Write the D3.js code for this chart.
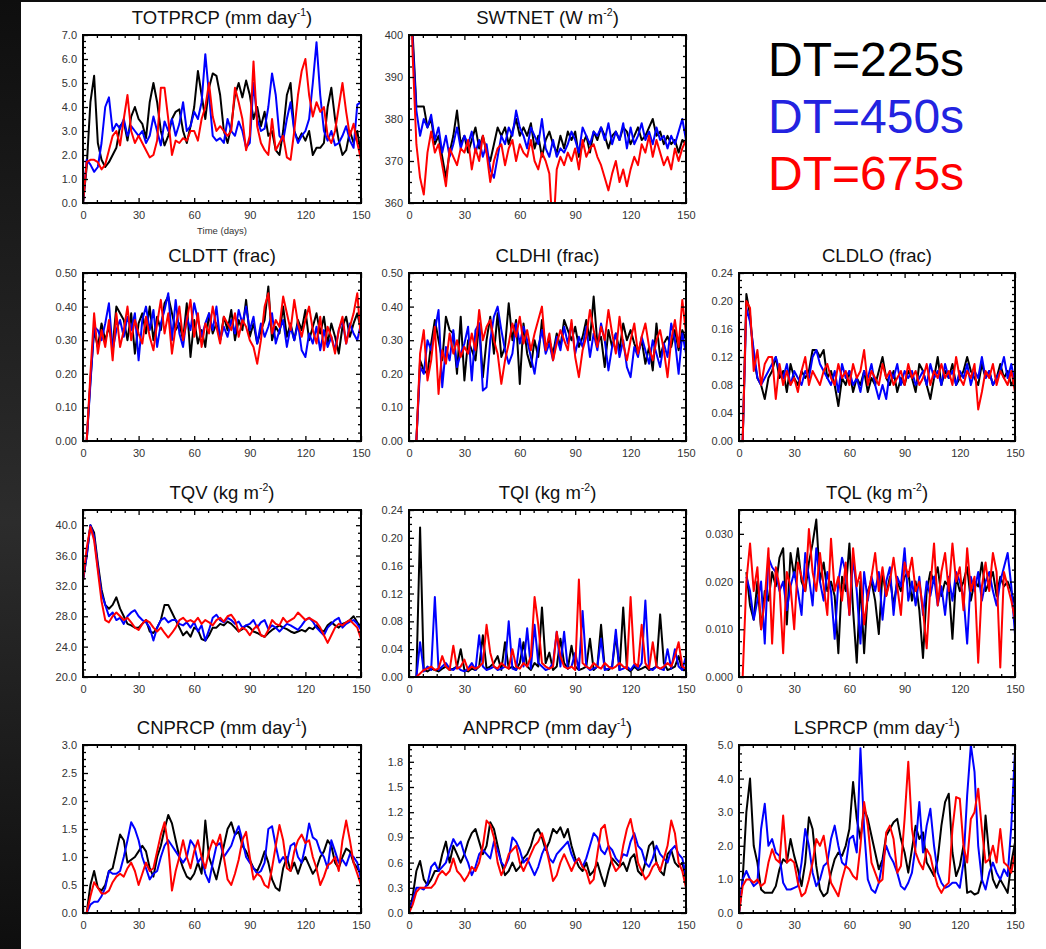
<!DOCTYPE html>
<html>
<head>
<meta charset="utf-8">
<script src="https://cdnjs.cloudflare.com/ajax/libs/d3/7.8.5/d3.min.js"></script>
<style>
  body { margin: 0; background: #fff; }
  svg { display: block; font-family: "Liberation Sans", Arial, Helvetica, sans-serif; }
</style>
</head>
<body>
<div id="chart"></div>
<script>
// Model time step sensitivity: 150-day runs at three time steps
// one value every 2 days, days 0..150
var days = d3.range(0, 151, 2);

// TOTPRCP (mm/day)
var tot225 = [0.0,1.5,4.2,5.3,2.5,1.8,1.5,1.7,2.0,2.3, 3.2,3.4,2.6,3.6,4.0,3.5,3.3,2.7,4.2,5.0,
  4.2,3.0,2.4,2.8,3.5,3.8,3.9,3.0,2.5,3.2, 4.0,5.5,4.5,3.5,4.8,5.4,5.3,4.5,3.0,2.5,
  3.2,4.5,5.0,4.4,5.1,4.5,3.5,4.0,3.2,3.8, 2.8,3.0,2.2,2.0,3.0,4.5,5.0,3.0,2.6,2.9,
  2.6,3.0,2.0,2.3,2.3,2.5,4.0,4.8,3.5,2.6, 2.0,2.2,3.0,2.5,3.0,2.0];
var tot450 = [0.0,1.8,1.6,1.3,1.5,2.5,4.0,4.4,3.0,3.3, 3.1,3.5,2.8,3.2,3.0,2.8,3.0,2.5,2.8,3.6,
  3.0,2.4,3.4,3.0,3.5,2.8,3.3,4.2,3.0,3.2, 3.8,3.5,4.2,6.2,4.5,2.8,2.6,2.7,2.5,3.5,
  3.0,2.8,3.4,3.0,2.3,2.5,5.0,3.5,3.0,3.1, 4.0,5.4,4.5,2.8,2.6,3.5,4.2,3.0,2.5,2.8,
  3.0,3.5,5.0,6.7,4.5,3.0,2.6,3.0,2.4,2.5, 2.8,3.2,2.6,2.3,4.1,4.2];
var tot675 = [0.0,1.7,1.8,1.8,1.7,1.4,1.6,2.2,2.8,3.0, 2.4,3.5,4.5,3.0,2.5,2.8,2.5,2.2,1.9,2.0,
  2.6,4.8,4.8,3.5,2.0,2.6,2.5,2.7,2.6,3.0, 3.0,2.6,3.5,4.0,5.0,3.6,3.0,3.2,3.0,2.8,
  3.0,4.8,4.2,3.5,2.2,2.8,5.9,3.2,2.5,2.2, 2.0,3.5,2.2,2.5,2.8,1.9,1.8,3.0,4.5,5.5,
  6.0,4.5,3.6,4.2,3.8,4.0,2.8,2.5,3.0,4.0, 5.0,3.8,2.8,3.3,2.5,1.8];

// SWTNET (W m-2)
var sw225 = [430,400,383,383,383,378,380,374,376,371, 366,372,376,382,374,376,372,375,378,373,
  376,372,370,374,378,376,378,374,377,380, 376,378,376,379,373,376,371,375,377,374,
  372,376,373,377,375,377,371,374,376,372, 377,375,378,376,373,376,377,375,378,377,
  374,376,378,375,376,378,380,376,377,374, 376,374,375,372,375,374];
var sw450 = [430,398,382,376,380,378,381,375,378,372, 376,371,374,378,373,376,374,377,372,375,
  371,374,368,366,371,376,374,378,376,382, 378,376,373,378,376,374,380,373,371,375,
  371,373,372,374,377,375,372,378,376,374, 377,376,378,375,379,374,377,375,379,373,
  378,374,376,379,375,377,374,378,375,376, 373,376,374,377,380,375];
var sw675 = [430,395,374,366,362,372,377,372,374,369, 364,373,371,369,373,372,375,368,373,370,
  376,372,365,370,373,374,369,373,375,370, 374,372,371,375,370,368,372,370,367,352,
  368,371,369,372,370,373,368,375,371,373, 374,371,369,366,363,367,370,365,368,364,
  368,371,369,374,372,376,371,375,372,369, 371,368,373,370,373,375];

// CLDTT (frac)
var cldtt225 = [null,0.0,0.18,0.33,0.28,0.35,0.30,0.34,0.28,0.40, 0.38,0.36,0.30,0.38,0.26,0.35,0.38,0.32,0.40,0.30,
  0.37,0.33,0.41,0.43,0.38,0.33,0.35,0.30,0.41,0.25, 0.36,0.29,0.33,0.28,0.38,0.32,0.35,0.30,0.37,0.33,
  0.39,0.30,0.36,0.33,0.42,0.31,0.35,0.29,0.33,0.36, 0.46,0.30,0.34,0.32,0.40,0.31,0.35,0.30,0.36,0.33,
  0.39,0.30,0.34,0.38,0.32,0.37,0.29,0.35,0.31,0.26, 0.34,0.37,0.31,0.35,0.38,0.33];
var cldtt450 = [null,0.0,0.17,0.34,0.33,0.30,0.35,0.41,0.27,0.33, 0.36,0.31,0.37,0.33,0.38,0.24,0.36,0.40,0.33,0.39,
  0.28,0.35,0.39,0.44,0.30,0.42,0.32,0.28,0.37,0.33, 0.41,0.36,0.31,0.35,0.38,0.33,0.40,0.30,0.34,0.31,
  0.36,0.32,0.39,0.35,0.40,0.33,0.37,0.29,0.35,0.31, 0.34,0.38,0.29,0.33,0.36,0.28,0.34,0.30,0.35,0.27,
  0.25,0.32,0.29,0.34,0.27,0.33,0.28,0.31,0.27,0.33, 0.36,0.29,0.35,0.32,0.30,0.35];
var cldtt675 = [null,0.0,0.20,0.38,0.26,0.33,0.28,0.36,0.24,0.38, 0.28,0.33,0.40,0.30,0.36,0.32,0.29,0.37,0.31,0.27,
  0.35,0.42,0.32,0.38,0.26,0.34,0.40,0.30,0.36,0.42, 0.31,0.38,0.28,0.35,0.32,0.40,0.34,0.29,0.37,0.35,
  0.33,0.38,0.31,0.36,0.34,0.30,0.28,0.23,0.30,0.40, 0.44,0.32,0.36,0.34,0.43,0.38,0.33,0.42,0.35,0.31,
  0.36,0.40,0.33,0.29,0.37,0.27,0.34,0.31,0.26,0.33, 0.37,0.29,0.34,0.38,0.44,0.30];

// CLDHI (frac)
var cldhi225 = [null,null,0.0,0.24,0.21,0.20,0.29,0.36,0.30,0.24, 0.37,0.33,0.32,0.20,0.37,0.18,0.30,0.27,0.24,0.35,
  0.19,0.30,0.37,0.26,0.38,0.25,0.28,0.41,0.30,0.36, 0.17,0.35,0.26,0.22,0.30,0.25,0.36,0.28,0.30,0.26,
  0.32,0.28,0.36,0.33,0.30,0.34,0.28,0.31,0.36,0.30, 0.43,0.29,0.31,0.22,0.33,0.28,0.32,0.27,0.35,0.30,
  0.33,0.29,0.26,0.30,0.23,0.28,0.21,0.35,0.25,0.29, 0.31,0.28,0.33,0.27,0.33,0.30];
var cldhi450 = [null,null,0.0,0.22,0.20,0.30,0.27,0.33,0.39,0.16, 0.28,0.24,0.33,0.22,0.26,0.29,0.34,0.18,0.33,0.35,
  0.15,0.16,0.30,0.37,0.40,0.33,0.27,0.23,0.26,0.35, 0.29,0.34,0.30,0.25,0.20,0.28,0.33,0.26,0.29,0.24,
  0.31,0.27,0.34,0.29,0.35,0.26,0.31,0.28,0.34,0.25, 0.32,0.27,0.35,0.30,0.21,0.28,0.32,0.25,0.30,0.22,
  0.19,0.28,0.25,0.31,0.27,0.23,0.30,0.26,0.22,0.29, 0.25,0.35,0.30,0.20,0.32,0.26];
var cldhi675 = [null,null,0.0,0.26,0.33,0.18,0.24,0.34,0.14,0.27, 0.23,0.32,0.26,0.30,0.25,0.28,0.26,0.32,0.27,0.39,
  0.30,0.34,0.36,0.30,0.26,0.17,0.24,0.29,0.35,0.31, 0.37,0.29,0.33,0.27,0.32,0.36,0.40,0.27,0.32,0.24,
  0.29,0.33,0.30,0.27,0.36,0.25,0.19,0.27,0.31,0.39, 0.33,0.28,0.34,0.30,0.39,0.32,0.26,0.37,0.29,0.24,
  0.30,0.35,0.26,0.31,0.35,0.28,0.24,0.30,0.33,0.27, 0.19,0.30,0.36,0.28,0.42,0.32];

// CLDLO (frac)
var cldlo225 = [null,0.0,0.21,0.18,0.12,0.09,0.08,0.06,0.09,0.10, 0.12,0.09,0.10,0.07,0.11,0.09,0.08,0.10,0.09,0.10,
  0.13,0.13,0.12,0.13,0.09,0.10,0.08,0.05,0.09,0.08, 0.10,0.07,0.09,0.08,0.10,0.07,0.09,0.08,0.10,0.12,
  0.09,0.08,0.10,0.07,0.09,0.08,0.10,0.09,0.07,0.11, 0.10,0.08,0.06,0.09,0.12,0.08,0.10,0.09,0.11,0.08,
  0.09,0.10,0.12,0.10,0.09,0.08,0.11,0.09,0.10,0.08, 0.09,0.11,0.09,0.10,0.08,0.09];
var cldlo450 = [null,0.0,0.19,0.17,0.13,0.09,0.08,0.09,0.10,0.11, 0.12,0.10,0.09,0.11,0.08,0.10,0.09,0.08,0.10,0.09,
  0.12,0.13,0.11,0.10,0.09,0.08,0.10,0.07,0.11,0.09, 0.10,0.08,0.09,0.07,0.10,0.09,0.11,0.08,0.06,0.08,
  0.06,0.10,0.09,0.11,0.08,0.10,0.09,0.10,0.08,0.09, 0.10,0.08,0.11,0.09,0.10,0.08,0.11,0.09,0.10,0.08,
  0.10,0.09,0.11,0.08,0.10,0.09,0.12,0.09,0.10,0.08, 0.09,0.10,0.12,0.09,0.11,0.08];
var cldlo675 = [null,0.0,0.20,0.19,0.10,0.13,0.08,0.11,0.12,0.12, 0.06,0.11,0.08,0.10,0.08,0.09,0.07,0.10,0.12,0.08,
  0.10,0.09,0.08,0.10,0.11,0.09,0.08,0.11,0.09,0.10, 0.08,0.11,0.09,0.10,0.13,0.08,0.10,0.09,0.08,0.11,
  0.09,0.10,0.08,0.09,0.10,0.08,0.11,0.09,0.10,0.08, 0.09,0.11,0.08,0.10,0.09,0.11,0.09,0.10,0.08,0.12,
  0.09,0.08,0.10,0.09,0.11,0.045,0.07,0.10,0.09,0.11, 0.08,0.10,0.09,0.08,0.10,0.07];

// TQV (kg m-2)
var tqv225 = [32.7,36,40,39,35,31.5,29.5,29,29.5,30.5, 29,28,27,26.8,26.5,26.5,27,27.5,26,25.8,
  26.5,27.5,29.5,29.5,28.5,27.5,26.5,25.5,26,25.3, 26.5,26.2,25,24.8,25.5,26.5,26.5,27,26.8,27.3,
  27,26.5,26,26.3,26.8,26.5,26,25.8,25.5,25.3, 25.8,26.2,26.5,26.8,26.5,26.3,26,25.8,26,26.2,
  26,26.5,26.3,26.8,26.2,26,26.8,27.2,26.8,26.5, 27,27.2,27.5,28,27.2,26.5];
var tqv450 = [32.7,36,40,38.5,34.5,31,29.5,28,28.5,27.5, 27.8,27,28,28.5,28.8,28,27.5,27.2,26.5,24.8,
  26.5,27.5,27.8,27.2,27.5,27.5,27,26.8,27.2,26.5, 27.2,26,26.8,24.8,26.2,27.8,28.2,27.5,27.2,27.8,
  27.5,27,27.3,26.5,26.8,27,27.5,26.5,27.2,27.5, 26.3,26.8,26.5,26,26.5,27,26.8,26.5,26.2,26.8,
  27.5,27.8,27.3,26.5,26,25.5,26.5,27,27.5,27.8, 26.5,27,27.3,27.5,27,26.2];
var tqv675 = [32.7,37,39.8,38,34,30,27.5,27.2,28,28.5, 28,27.5,27.8,27.2,26.5,26.2,27,27.5,27.2,26.5,
  26,26.5,25.8,25.2,25.8,26.5,27.5,27.8,27.3,27.5, 27.2,27.8,27,27.5,27.2,26.8,27.5,27.8,27.3,28,
  28.2,27.5,26,26.5,26.2,25.5,26.3,26.8,25.5,25.3, 26.2,27.5,27,26.8,27.8,27.2,27.5,27.8,28.5,28,
  27.5,27.8,27.5,27.2,26.5,25.5,24.5,25.5,26.5,27, 26.8,27.2,27.5,27,26.5,25];

// TQI (kg m-2)
var tqi225 = [null,null,0.0,0.215,0.01,0.008,0.012,0.01,0.008,0.012, 0.015,0.01,0.012,0.015,0.04,0.01,0.008,0.012,0.01,0.015,
  0.06,0.012,0.015,0.02,0.03,0.01,0.05,0.012,0.015,0.01, 0.02,0.05,0.015,0.01,0.02,0.015,0.10,0.02,0.035,0.01,
  0.015,0.055,0.02,0.012,0.045,0.015,0.01,0.012,0.015,0.055, 0.01,0.015,0.075,0.012,0.01,0.015,0.06,0.01,0.10,0.012,
  0.008,0.015,0.01,0.012,0.015,0.01,0.012,0.015,0.09,0.02, 0.01,0.012,0.015,0.03,0.01,0.012];
var tqi450 = [null,null,0.0,0.05,0.008,0.015,0.01,0.115,0.01,0.015, 0.02,0.012,0.01,0.015,0.01,0.008,0.012,0.02,0.01,0.06,
  0.015,0.01,0.012,0.015,0.01,0.012,0.015,0.08,0.012,0.01, 0.055,0.015,0.07,0.012,0.075,0.02,0.015,0.01,0.012,0.02,
  0.065,0.015,0.065,0.012,0.015,0.035,0.01,0.095,0.015,0.01, 0.012,0.015,0.055,0.01,0.012,0.015,0.068,0.01,0.012,0.015,
  0.01,0.018,0.012,0.02,0.11,0.012,0.01,0.015,0.012,0.01, 0.04,0.012,0.04,0.015,0.01,0.03];
var tqi675 = [null,null,0.0,0.005,0.01,0.012,0.015,0.01,0.012,0.03, 0.015,0.01,0.045,0.012,0.015,0.025,0.01,0.015,0.012,0.015,
  0.02,0.075,0.035,0.015,0.012,0.02,0.015,0.012,0.04,0.015, 0.012,0.02,0.015,0.03,0.115,0.075,0.02,0.015,0.012,0.015,
  0.065,0.03,0.015,0.012,0.015,0.01,0.14,0.02,0.015,0.012, 0.02,0.015,0.012,0.02,0.015,0.012,0.015,0.02,0.015,0.012,
  0.115,0.02,0.015,0.075,0.02,0.012,0.05,0.015,0.012,0.015, 0.02,0.015,0.03,0.05,0.015,0.012];

// TQL (kg m-2)
var tql225 = [null,null,0.022,0.015,0.012,0.02,0.01,0.018,0.016,0.022, 0.019,0.025,0.027,0.011,0.026,0.021,0.027,0.02,0.018,0.024,
  0.028,0.033,0.02,0.024,0.018,0.02,0.017,0.005,0.021,0.018, 0.028,0.014,0.003,0.02,0.005,0.018,0.02,0.016,0.009,0.022,
  0.017,0.021,0.015,0.02,0.018,0.021,0.022,0.016,0.02,0.014, 0.004,0.018,0.022,0.02,0.023,0.017,0.02,0.019,0.008,0.021,
  0.018,0.02,0.023,0.016,0.02,0.019,0.024,0.018,0.02,0.022, 0.017,0.021,0.019,0.02,0.018,0.015];
var tql450 = [null,null,0.021,0.018,0.012,0.016,0.02,0.007,0.025,0.023, 0.022,0.018,0.02,0.014,0.019,0.022,0.018,0.013,0.026,0.021,
  0.015,0.027,0.02,0.016,0.022,0.018,0.008,0.02,0.025,0.022, 0.013,0.025,0.018,0.007,0.022,0.016,0.021,0.018,0.022,0.012,
  0.02,0.023,0.013,0.021,0.019,0.027,0.016,0.02,0.015,0.021, 0.013,0.02,0.017,0.021,0.015,0.019,0.013,0.021,0.016,0.022,
  0.02,0.017,0.007,0.021,0.018,0.022,0.016,0.02,0.022,0.018, 0.015,0.02,0.023,0.026,0.019,0.009];
var tql675 = [null,0.0,0.02,0.028,0.018,0.023,0.01,0.016,0.027,0.007, 0.023,0.019,0.005,0.022,0.019,0.01,0.024,0.021,0.018,0.031,
  0.022,0.018,0.026,0.019,0.013,0.029,0.018,0.021,0.016,0.024, 0.013,0.027,0.019,0.022,0.011,0.017,0.021,0.026,0.018,0.023,
  0.017,0.02,0.025,0.019,0.013,0.024,0.021,0.025,0.018,0.02, 0.014,0.006,0.019,0.028,0.015,0.022,0.026,0.018,0.028,0.02,
  0.023,0.014,0.027,0.018,0.021,0.003,0.019,0.024,0.018,0.026, 0.022,0.002,0.022,0.019,0.016,0.012];

// CNPRCP (mm/day)
var cn225 = [0.0,0.0,0.5,0.75,0.45,0.4,0.5,0.75,0.8,1.1, 1.4,1.3,0.9,0.95,1.0,1.1,1.2,1.1,0.8,0.65,
  1.0,1.2,1.5,1.75,1.6,1.3,1.0,0.8,0.65,0.6, 0.7,0.9,0.7,1.65,1.0,0.8,0.6,0.9,1.2,1.5,
  1.62,1.4,1.45,1.2,1.1,0.95,0.8,0.75,0.9,1.1, 0.9,0.6,0.45,0.4,0.8,1.0,0.75,0.9,0.7,0.9,
  1.0,0.85,0.7,0.8,1.0,1.1,1.3,1.2,0.9,0.8, 1.0,1.15,1.1,0.9,0.8,0.7];
var cn450 = [0.0,0.0,0.15,0.2,0.2,0.3,0.45,0.75,0.7,0.7, 0.75,1.0,1.3,1.62,1.5,1.3,1.0,0.8,0.6,0.7,
  0.75,1.0,1.2,1.3,1.2,1.1,1.0,0.9,1.0,1.3, 1.2,0.9,1.0,0.7,0.55,0.9,1.2,1.25,1.0,1.1,
  1.2,1.4,1.55,1.3,1.0,0.9,0.8,0.7,0.75,0.9, 1.5,1.55,1.2,0.9,1.0,0.9,1.2,1.25,1.0,0.9,
  1.2,1.6,1.35,1.3,1.1,1.0,0.8,1.3,1.1,0.9, 0.95,0.85,1.05,1.0,0.9,0.6];
var cn675 = [0.0,0.0,0.3,0.55,0.45,0.35,0.35,0.4,0.55,0.65, 0.7,0.65,0.8,0.9,0.75,0.5,0.7,0.9,0.75,0.8,
  1.1,1.4,1.62,1.2,0.4,0.75,1.0,1.3,1.0,0.8, 1.1,1.3,1.0,0.8,1.1,1.3,1.2,1.4,1.0,0.6,
  0.5,0.7,0.95,1.3,1.45,1.0,0.6,0.7,0.65,0.5, 0.45,0.8,1.2,1.57,1.3,0.8,0.75,1.1,1.3,1.4,
  1.25,1.3,1.0,0.8,0.5,0.65,0.85,0.9,1.0,0.75, 1.3,1.65,1.3,0.9,0.7,0.5];

// ANPRCP (mm/day)
var an225 = [0.0,0.2,0.5,0.62,0.4,0.33,0.4,0.5,0.5,0.7, 0.85,0.6,0.8,0.7,0.6,0.7,0.85,0.95,1.0,0.85,
  0.7,0.8,1.08,1.0,0.8,0.6,0.45,0.5,0.6,0.5, 0.55,0.65,0.7,0.8,0.95,1.0,0.9,0.75,0.85,1.0,
  0.95,1.02,0.9,1.0,0.8,0.65,0.55,0.5,0.6,0.45, 0.5,0.6,0.45,0.32,0.5,0.65,0.6,0.55,0.6,0.5,
  0.65,0.7,0.5,0.45,0.6,0.8,0.85,0.6,0.5,0.45, 0.7,0.75,0.6,0.55,0.6,0.4];
var an450 = [0.0,0.15,0.3,0.3,0.28,0.35,0.55,0.6,0.5,0.55, 0.6,0.75,0.88,0.8,0.85,0.7,0.6,0.45,0.55,0.7,
  0.75,0.7,0.65,0.85,0.75,0.6,0.55,0.65,0.9,0.85, 0.75,0.6,0.65,0.55,0.45,0.55,0.7,0.8,0.65,0.6,
  0.7,0.75,0.8,0.85,0.7,0.6,0.65,0.55,0.65,0.8, 0.95,0.9,0.75,0.7,0.8,0.75,0.65,0.6,0.7,0.68,
  0.85,0.95,0.8,0.75,0.6,0.55,0.65,0.8,0.7,0.65, 0.6,0.75,0.8,0.7,0.65,0.45];
var an675 = [0.0,0.1,0.25,0.3,0.3,0.3,0.3,0.35,0.45,0.5, 0.45,0.5,0.65,0.5,0.45,0.38,0.45,0.55,0.5,0.6,
  0.8,1.1,1.05,0.9,0.6,0.45,0.55,0.7,0.75,0.8, 0.6,0.5,0.6,0.7,0.8,0.85,0.95,0.8,0.6,0.38,
  0.45,0.6,0.7,0.6,0.5,0.6,0.65,0.55,0.5,0.35, 0.4,0.7,1.0,1.05,0.8,0.6,0.5,0.55,0.8,1.0,
  1.12,0.9,0.6,0.5,0.4,0.45,0.55,0.6,0.5,0.65, 0.8,1.1,0.95,0.6,0.5,0.3];

// LSPRCP (mm/day)
var ls225 = [0.0,1.0,3.0,4.0,2.0,1.5,0.7,0.6,0.6,0.6, 0.8,1.3,1.6,1.5,2.2,1.7,1.3,0.8,1.5,2.85,
  2.5,1.4,0.7,0.5,0.6,1.2,1.6,1.8,1.7,2.0, 2.5,3.9,2.8,2.2,3.1,2.8,2.3,1.8,1.3,1.6,
  2.3,2.5,2.7,2.8,2.2,1.8,1.2,1.9,2.6,2.2, 2.4,1.5,1.3,1.1,1.6,2.6,3.3,3.55,1.8,1.1,
  1.4,2.0,0.6,0.65,0.55,0.6,1.0,2.9,1.7,1.0, 0.75,1.0,0.8,0.6,1.5,2.1];
var ls450 = [0.0,1.0,1.25,1.0,0.8,0.9,2.5,3.25,2.0,2.2, 1.8,1.7,0.9,0.7,0.7,0.75,0.8,1.5,2.5,2.0,
  1.2,0.8,1.0,1.4,1.5,2.2,2.6,2.0,1.5,1.4, 2.2,2.3,1.8,4.9,2.5,1.0,0.7,0.6,0.9,1.5,
  2.0,1.7,1.5,1.2,0.8,0.7,0.9,1.2,2.0,3.3, 1.8,2.6,3.1,2.0,1.2,0.9,0.75,0.8,0.9,0.9,
  0.75,1.5,3.5,5.0,4.2,2.0,1.0,0.7,1.2,1.5, 1.2,1.0,1.3,1.1,2.6,4.8];
var ls675 = [0.0,0.8,1.0,1.0,0.9,1.0,0.8,0.9,1.5,1.9, 1.6,1.5,2.9,1.5,1.6,1.5,0.9,0.5,0.6,1.0,
  1.5,2.2,2.0,2.3,1.6,0.9,0.7,0.5,1.0,1.4, 1.3,1.1,1.0,2.0,3.3,2.6,1.5,1.2,0.9,1.0,
  2.4,2.6,2.2,1.2,1.4,2.8,4.5,2.5,1.8,1.5, 1.3,1.9,1.7,1.2,0.8,0.6,0.8,0.9,2.5,3.45,
  3.4,2.0,1.5,2.8,3.0,3.7,2.5,1.5,1.6,2.0, 1.5,2.5,1.5,1.4,1.2,1.8];

var runLabels = ["DT=225s", "DT=450s", "DT=675s"];
var lineColors = ["#000000", "#0000ff", "#ff0000"];
var textColors = ["#000000", "#2323e0", "#ff0000"];

// panel definitions
var panels = [
  {name: "TOTPRCP", unit: "mm day", sup: "-1", data: [tot225, tot450, tot675], y: [0, 7], major: 1, fmt: ".1f", col: 0, row: 0, xtitle: "Time (days)"},
  {name: "SWTNET", unit: "W m", sup: "-2", data: [sw225, sw450, sw675], y: [360, 400], major: 10, fmt: "d", col: 1, row: 0},
  {name: "CLDTT", unit: "frac", data: [cldtt225, cldtt450, cldtt675], y: [0, 0.5], major: 0.1, fmt: ".2f", col: 0, row: 1},
  {name: "CLDHI", unit: "frac", data: [cldhi225, cldhi450, cldhi675], y: [0, 0.5], major: 0.1, fmt: ".2f", col: 1, row: 1},
  {name: "CLDLO", unit: "frac", data: [cldlo225, cldlo450, cldlo675], y: [0, 0.24], major: 0.04, fmt: ".2f", col: 2, row: 1},
  {name: "TQV", unit: "kg m", sup: "-2", data: [tqv225, tqv450, tqv675], y: [20, 42], major: 4, fmt: ".1f", col: 0, row: 2},
  {name: "TQI", unit: "kg m", sup: "-2", data: [tqi225, tqi450, tqi675], y: [0, 0.24], major: 0.04, fmt: ".2f", col: 1, row: 2},
  {name: "TQL", unit: "kg m", sup: "-2", data: [tql225, tql450, tql675], y: [0, 0.035], major: 0.01, fmt: ".3f", col: 2, row: 2},
  {name: "CNPRCP", unit: "mm day", sup: "-1", data: [cn225, cn450, cn675], y: [0, 3], major: 0.5, fmt: ".1f", col: 0, row: 3},
  {name: "ANPRCP", unit: "mm day", sup: "-1", data: [an225, an450, an675], y: [0, 2], major: 0.3, fmt: ".1f", col: 1, row: 3},
  {name: "LSPRCP", unit: "mm day", sup: "-1", data: [ls225, ls450, ls675], y: [0, 5], major: 1, fmt: ".1f", col: 2, row: 3}
];

var colX = [83, 409, 739], colW = [278, 277, 276];
var rowY = [35, 273, 510, 745], rowH = [168, 168, 167, 168];

var svg = d3.select("#chart").append("svg")
  .attr("width", 1046)
  .attr("height", 949);

var defs = svg.append("defs");
var grad = defs.append("linearGradient").attr("id", "edge")
  .attr("x1", 0).attr("y1", 0).attr("x2", 0).attr("y2", 1);
grad.append("stop").attr("offset", "0%").attr("stop-color", "#0e0e0e");
grad.append("stop").attr("offset", "55%").attr("stop-color", "#2c2c2c");
grad.append("stop").attr("offset", "100%").attr("stop-color", "#0e0e0e");

// dark slide edge on the left and top, white page
svg.append("rect").attr("width", 1046).attr("height", 949).attr("fill", "url(#edge)");
svg.append("rect").attr("x", 21).attr("y", 2).attr("width", 1025).attr("height", 947).attr("fill", "#fff");

function ticksFor(lo, hi, step) {
  var out = [];
  for (var v = lo; v <= hi + step * 1e-6; v += step) out.push(+v.toFixed(6));
  return out;
}

panels.forEach(function(p, i) {
  var w = colW[p.col], h = rowH[p.row];
  var g = svg.append("g")
    .attr("transform", `translate(${colX[p.col]},${rowY[p.row]})`);

  var x = d3.scaleLinear().domain([0, 150]).range([0, w]);
  var y = d3.scaleLinear().domain(p.y).range([h, 0]);

  defs.append("clipPath").attr("id", "clip" + i)
    .append("rect").attr("width", w).attr("height", h);

  // data lines
  var line = d3.line()
    .defined(d => d[1] != null)
    .x(d => x(d[0]))
    .y(d => y(d[1]));

  var plot = g.append("g").attr("clip-path", `url(#clip${i})`);
  p.data.forEach(function(s, k) {
    plot.append("path")
      .datum(days.map((d, j) => [d, s[j]]))
      .attr("d", line)
      .attr("fill", "none")
      .attr("stroke", lineColors[k])
      .attr("stroke-width", 2)
      .attr("stroke-linejoin", "round");
  });

  // tick marks on all four sides, pointing in
  var xMajor = ticksFor(0, 150, 30);
  var xMinor = ticksFor(0, 150, 7.5).filter(v => v % 30 != 0);
  var yMajor = ticksFor(p.y[0], p.y[1], p.major);
  var yMinor = ticksFor(p.y[0], p.y[1], p.major / 4).filter(v => !yMajor.some(m => Math.abs(m - v) < 1e-9));

  function addAxis(axis, tr) {
    var a = g.append("g").attr("transform", tr).call(axis);
    a.select(".domain").remove();
    a.selectAll("line").attr("stroke", "#000").attr("stroke-width", 1.3);
    return a;
  }

  var xb = addAxis(d3.axisBottom(x).tickValues(xMajor).tickSize(-5).tickPadding(8).tickFormat(d3.format("d")), `translate(0,${h})`);
  addAxis(d3.axisBottom(x).tickValues(xMinor).tickSize(-3).tickFormat(""), `translate(0,${h})`);
  addAxis(d3.axisTop(x).tickValues(xMajor).tickSize(-5).tickFormat(""), "translate(0,0)");
  addAxis(d3.axisTop(x).tickValues(xMinor).tickSize(-3).tickFormat(""), "translate(0,0)");

  var yl = addAxis(d3.axisLeft(y).tickValues(yMajor).tickSize(-5).tickPadding(6).tickFormat(d3.format(p.fmt)), "translate(0,0)");
  addAxis(d3.axisLeft(y).tickValues(yMinor).tickSize(-3).tickFormat(""), "translate(0,0)");
  addAxis(d3.axisRight(y).tickValues(yMajor).tickSize(-5).tickFormat(""), `translate(${w},0)`);
  addAxis(d3.axisRight(y).tickValues(yMinor).tickSize(-3).tickFormat(""), `translate(${w},0)`);

  [xb, yl].forEach(function(a) {
    a.attr("font-family", null).attr("font-size", null);
    a.selectAll("text").attr("font-size", 11).attr("fill", "#333");
  });

  // frame
  g.append("rect")
    .attr("width", w).attr("height", h)
    .attr("fill", "none").attr("stroke", "#000").attr("stroke-width", 2);

  // title with superscript unit
  var t = g.append("text")
    .attr("x", w / 2).attr("y", -11)
    .attr("text-anchor", "middle")
    .attr("font-size", 18.5)
    .attr("fill", "#111");
  t.append("tspan").text(p.name + " (" + p.unit);
  if (p.sup) {
    t.append("tspan").attr("dy", -8).attr("font-size", 10.5).text(p.sup);
    t.append("tspan").attr("dy", 8).text(")");
  } else {
    t.append("tspan").text(")");
  }

  if (p.xtitle) {
    g.append("text")
      .attr("x", w / 2).attr("y", h + 31)
      .attr("text-anchor", "middle")
      .attr("font-size", 9.5)
      .attr("fill", "#333")
      .text(p.xtitle);
  }
});

// legend: run labels in their line colours
svg.selectAll(".runlabel")
  .data(runLabels)
  .enter()
  .append("text")
  .attr("class", "runlabel")
  .attr("x", 768)
  .attr("y", (d, i) => 76 + i * 57)
  .attr("font-size", 48)
  .attr("fill", (d, i) => textColors[i])
  .text(d => d);
</script>
</body>
</html>
